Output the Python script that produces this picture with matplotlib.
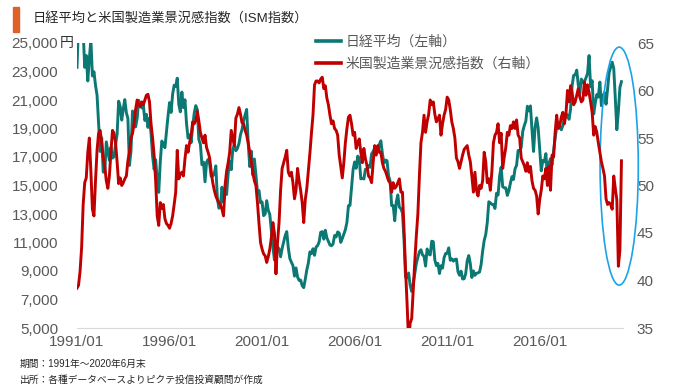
import matplotlib.pyplot as plt
from matplotlib.patches import Ellipse, Rectangle
from matplotlib.lines import Line2D

plt.rcParams['font.family'] = ['Liberation Sans', 'Noto Sans CJK JP', 'DejaVu Sans']

# 日経平均 月末値 (1991/01 - 2020/06)
nikkei = [
    23293, 26409, 26292, 26111, 25790, 23291, 24121, 22336, 23916, 25222, 22687, 22984,  # 1991
    22023, 21339, 19346, 17391, 18348, 15952, 15910, 18061, 17399, 16767, 17683, 16925,  # 1992
    17024, 17876, 18591, 20919, 20552, 19590, 20380, 21027, 20106, 19703, 16408, 17417,  # 1993
    20229, 19997, 19112, 19725, 20974, 20644, 20449, 20629, 19564, 19990, 19076, 19723,  # 1994
    18650, 17053, 16140, 16807, 15437, 14517, 16678, 18117, 17913, 17655, 18744, 19868,  # 1995
    20813, 20125, 21407, 22041, 21956, 22531, 20693, 20167, 21556, 20467, 21020, 19361,  # 1996
    18330, 18557, 18003, 19151, 20069, 20605, 20331, 18229, 17888, 16459, 16636, 15259,  # 1997
    16628, 16832, 16527, 15641, 15671, 15831, 16379, 14108, 13406, 13565, 14884, 13842,  # 1998
    14499, 14368, 15837, 16702, 16112, 17530, 17862, 17437, 17606, 17943, 18558, 18934,  # 1999
    19540, 19960, 20337, 17974, 16332, 17411, 15727, 16861, 15747, 14539, 14649, 13786,  # 2000
    13843, 12884, 12999, 13934, 13262, 12969, 11861, 10714, 9775, 10366, 10697, 10543,   # 2001
    9997, 10588, 11025, 11493, 11764, 10622, 9877, 9619, 9383, 8640, 9216, 8579,         # 2002
    8340, 8363, 7973, 7831, 8425, 9083, 9563, 10344, 10219, 10560, 10101, 10677,         # 2003
    10783, 11042, 11715, 11761, 11236, 11858, 11326, 11082, 10824, 10771, 10899, 11489,  # 2004
    11388, 11741, 11669, 11009, 11277, 11584, 11900, 12414, 13574, 13607, 14872, 16111,  # 2005
    16650, 16205, 17060, 16906, 15467, 15505, 15457, 16141, 16128, 16399, 16274, 17226,  # 2006
    17383, 17604, 17288, 17400, 17876, 18138, 17249, 16569, 16786, 16738, 15681, 15308,  # 2007
    13592, 13604, 12526, 13850, 14339, 13481, 13377, 13073, 11260, 8577, 8512, 8860,     # 2008
    7994, 7568, 8110, 8828, 9523, 9958, 10357, 10493, 10133, 10035, 9346, 10546,         # 2009
    10198, 10126, 11090, 11057, 9769, 9383, 9537, 8824, 9369, 9202, 9937, 10229,         # 2010
    10237, 10624, 9755, 9850, 9693, 9816, 9833, 8955, 8700, 8988, 8435, 8455,            # 2011
    8803, 9723, 10084, 9521, 8543, 9007, 8695, 8840, 8870, 8928, 9446, 10395,            # 2012
    11139, 11559, 12398, 13861, 13775, 13677, 13668, 13389, 14456, 14328, 15662, 16291,  # 2013
    14915, 14841, 14828, 14304, 14632, 15162, 15621, 15425, 16174, 16414, 17460, 17451,  # 2014
    17674, 18798, 19207, 19520, 20563, 20236, 20585, 18890, 17388, 19083, 19747, 19034,  # 2015
    17518, 16027, 16759, 16666, 17235, 15576, 16569, 16887, 16450, 17425, 18308, 19114,  # 2016
    19041, 19119, 18909, 19197, 19651, 20033, 19925, 19646, 20356, 22012, 22725, 22765,  # 2017
    23098, 22068, 21454, 22468, 22202, 22305, 22554, 22865, 24120, 21920, 22351, 20015,  # 2018
    20773, 21385, 21206, 22259, 20601, 21276, 21522, 20704, 21756, 22927, 23294, 23657,  # 2019
    23205, 21143, 18917, 20194, 21878, 22288,                                            # 2020
]

# 米国ISM製造業景況感指数
ism = [
    39.2, 39.5, 41.0, 43.5, 48.0, 50.3, 50.8, 53.5, 55.0, 51.5, 47.5, 46.8,  # 1991
    50.5, 53.7, 55.5, 55.8, 54.5, 53.0, 52.0, 50.5, 49.7, 51.0, 53.5, 55.8,  # 1992
    55.5, 54.5, 52.5, 50.2, 50.8, 50.0, 50.3, 50.7, 51.0, 52.6, 53.5, 55.0,  # 1993
    55.5, 56.5, 58.0, 59.0, 58.5, 58.3, 58.8, 58.5, 59.0, 59.5, 59.6, 58.8,  # 1994
    56.5, 55.0, 53.2, 50.5, 46.8, 45.8, 48.2, 47.6, 48.0, 46.5, 46.0, 45.8,  # 1995
    45.5, 46.0, 46.8, 48.0, 49.3, 53.7, 50.7, 51.2, 51.4, 51.0, 52.8, 54.2,  # 1996
    53.5, 54.5, 55.3, 56.7, 56.5, 56.8, 57.8, 56.8, 55.6, 55.0, 54.5, 55.3,  # 1997
    54.0, 53.5, 52.9, 51.5, 50.3, 49.5, 48.9, 48.5, 48.2, 47.9, 47.5, 46.8,  # 1998
    50.0, 51.5, 52.4, 53.5, 55.8, 55.0, 54.2, 57.1, 57.5, 58.2, 57.5, 56.6,  # 1999
    56.5, 55.8, 55.3, 54.5, 53.5, 52.5, 51.4, 50.5, 50.0, 48.2, 46.0, 44.0,  # 2000
    43.3, 42.8, 42.6, 41.9, 42.5, 43.3, 44.5, 46.1, 45.0, 40.7, 44.0, 46.1,  # 2001
    49.5, 51.8, 52.4, 53.0, 53.7, 51.4, 51.0, 51.4, 50.3, 48.6, 49.5, 51.8,  # 2002
    50.5, 49.5, 48.2, 46.1, 48.5, 49.7, 51.5, 53.4, 55.5, 57.4, 60.6, 61.0,  # 2003
    61.0, 60.8, 61.2, 61.4, 60.2, 60.5, 59.2, 58.5, 57.4, 56.5, 56.8, 56.0,  # 2004
    55.8, 55.3, 53.2, 52.0, 50.8, 52.4, 54.5, 56.0, 57.2, 57.4, 56.5, 55.3,  # 2005
    55.6, 53.9, 54.5, 54.9, 53.5, 52.4, 53.9, 52.8, 52.1, 51.0, 50.8, 50.3,  # 2006
    52.4, 54.2, 53.2, 54.2, 53.5, 53.5, 52.4, 51.8, 51.5, 51.0, 50.5, 50.3,  # 2007
    49.3, 50.3, 49.7, 49.9, 50.3, 50.7, 49.3, 49.3, 45.5, 41.2, 37.6, 33.5,  # 2008
    35.5, 36.0, 39.1, 42.0, 44.7, 47.0, 51.0, 54.5, 55.6, 57.4, 55.6, 56.7,  # 2009
    57.5, 59.0, 58.5, 58.8, 57.5, 56.7, 57.0, 57.4, 55.3, 56.5, 57.4, 58.0,  # 2010
    59.3, 59.0, 58.0, 56.7, 56.0, 55.0, 52.9, 52.5, 51.8, 52.5, 53.2, 53.8,  # 2011
    54.0, 54.2, 53.2, 52.5, 51.0, 49.3, 51.4, 49.5, 48.9, 50.0, 49.7, 50.5,  # 2012
    53.5, 52.5, 50.3, 50.7, 49.5, 51.5, 54.5, 55.3, 55.6, 56.5, 54.5, 55.5,  # 2013
    51.8, 53.0, 54.0, 55.6, 55.3, 56.3, 56.0, 56.7, 56.0, 56.9, 55.3, 55.0,  # 2014
    52.9, 52.5, 52.1, 51.5, 52.4, 51.4, 52.0, 50.5, 49.7, 49.5, 48.9, 47.0,  # 2015
    48.5, 49.5, 51.0, 50.7, 51.8, 50.0, 52.0, 49.5, 53.2, 53.0, 55.6, 57.4,  # 2016
    56.0, 56.3, 57.2, 57.7, 56.5, 57.5, 60.0, 58.8, 60.5, 59.8, 58.5, 58.8,  # 2017
    59.5, 60.2, 59.3, 58.8, 59.0, 60.9, 59.5, 60.6, 59.8, 58.8, 57.7, 55.3,  # 2018
    56.2, 55.6, 54.5, 53.5, 52.5, 51.8, 51.0, 48.6, 48.0, 48.2, 48.0, 47.5,  # 2019
    51.0, 49.7, 48.5, 41.5, 43.2, 52.6,                                      # 2020
]

xticks = [0, 60, 120, 180, 240, 300]
xlabels = ['1991/01', '1996/01', '2001/01', '2006/01', '2011/01', '2016/01']
left_ticks = list(range(5000, 25001, 2000))
right_ticks = list(range(35, 66, 5))

x = list(range(len(nikkei)))
gray = '#595959'

fig = plt.figure(figsize=(6.8, 3.89), dpi=100)
ax = fig.add_axes([77/680, 1-328/389, 546/680, 285/389])
ax.plot(x, nikkei, color='#0B7873', lw=2.1, label='日経平均（左軸）')
ax.set_xlim(0, 354)
ax.set_ylim(5000, 25000)
ax.set_yticks(left_ticks)
ax.set_yticklabels(['{:,}'.format(v) for v in left_ticks])
ax.set_xticks(xticks)
ax.set_xticklabels(xlabels)
for s in ['top', 'right', 'left']:
    ax.spines[s].set_visible(False)
ax.spines['bottom'].set_color('#D9D9D9')
ax.tick_params(axis='y', length=0, pad=13.5, labelsize=11, labelcolor=gray)
ax.tick_params(axis='x', length=0, pad=5, labelsize=11, labelcolor=gray)

ax2 = ax.twinx()
ax2.plot(x, ism, color='#C00000', lw=2.1, label='米国製造業景況感指数（右軸）')
ax2.set_ylim(35, 65)
ax2.set_yticks(right_ticks)
for s in ax2.spines.values():
    s.set_visible(False)
ax2.tick_params(axis='y', length=0, pad=10, labelsize=11, labelcolor=gray)

# 直近の部分を囲む楕円
ax2.add_patch(Ellipse((0.993, 0.568), 0.07, 0.835, transform=ax.transAxes,
                      fill=False, edgecolor='#1AA3E8', lw=1.2, clip_on=False))

handles = [Line2D([], [], color='#0B7873', lw=2.6), Line2D([], [], color='#C00000', lw=2.6)]
fig.legend(handles, ['日経平均（左軸）', '米国製造業景況感指数（右軸）'],
           loc='upper left', bbox_to_anchor=(316/680, 1-35/389), frameon=False,
           fontsize=10, labelcolor=gray, handlelength=1.8, handletextpad=0.3,
           borderpad=0, borderaxespad=0, labelspacing=0.55)

fig.text(60/680, 1-43/389, '円', fontsize=10, color='#333333', va='center')

fig.patches.append(Rectangle((13/680, 1-32/389), 6/680, 25/389, transform=fig.transFigure,
                             color='#E0602A'))
fig.text(33/680, 1-18/389, '日経平均と米国製造業景況感指数（ISM指数）', fontsize=9.5,
         color='#262626', va='center')

fig.text(20/680, 1-364/389, '期間：1991年～2020年6月末', fontsize=7, color='#262626', va='center')
fig.text(20/680, 1-380/389, '出所：各種データベースよりピクテ投信投資顧問が作成', fontsize=7,
         color='#262626', va='center')

fig.savefig('out.png', dpi=100)
